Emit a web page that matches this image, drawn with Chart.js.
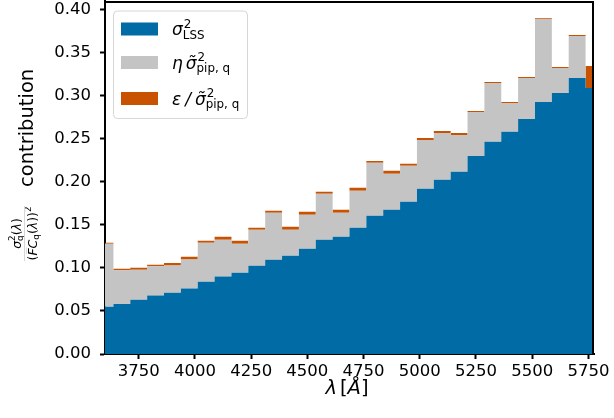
<!DOCTYPE html>
<html>
<head>
<meta charset="utf-8">
<script src="https://cdn.jsdelivr.net/npm/chart.js@4"></script>
<style>
  html, body { margin: 0; padding: 0; background: #fff; }
  #c { display: block; }
</style>
</head>
<body>
<canvas id="c" width="614" height="418"></canvas>
<script>
// bin centres (Angstrom), 75 A wide
const wavelength = [3600, 3675, 3750, 3825, 3900, 3975, 4050, 4125, 4200, 4275,
    4350, 4425, 4500, 4575, 4650, 4725, 4800, 4875, 4950, 5025,
    5100, 5175, 5250, 5325, 5400, 5475, 5550, 5625, 5700, 5775];

const sigmaLSS = [0.055, 0.058, 0.063, 0.068, 0.071, 0.076, 0.084, 0.090, 0.0945, 0.1026,
    0.1096, 0.1142, 0.1223, 0.1328, 0.1362, 0.1467, 0.1606, 0.1675, 0.1768, 0.1919,
    0.2023, 0.2116, 0.2301, 0.2464, 0.258, 0.273, 0.2928, 0.3032, 0.3206, 0.309];

const etaPip = [0.0731, 0.0392, 0.0348, 0.0338, 0.0317, 0.0339, 0.0453, 0.0428, 0.0336, 0.0417,
    0.0545, 0.0301, 0.0394, 0.0533, 0.0278, 0.0429, 0.0614, 0.0418, 0.0418, 0.0568,
    0.0545, 0.0429, 0.0511, 0.0684, 0.0336, 0.0476, 0.0962, 0.029, 0.0487, 0.0];

const epsPip = [0.0012, 0.0019, 0.0023, 0.002, 0.0031, 0.0031, 0.0023, 0.0034, 0.0035, 0.0024,
    0.0023, 0.0035, 0.0035, 0.0023, 0.0035, 0.0034, 0.0023, 0.0035, 0.0023, 0.0023,
    0.0023, 0.0023, 0.0011, 0.0012, 0.0012, 0.0011, 0.0011, 0.0011, 0.0011, 0.0255];

const xTicks = [3750, 4000, 4250, 4500, 4750, 5000, 5250, 5500, 5750];
const yTicks = [0, 0.05, 0.10, 0.15, 0.20, 0.25, 0.30, 0.35, 0.40];

const BLUE = '#006BA4';
const GREY = '#C4C4C4';
const ORANGE = '#C85200';
const FONT = "'DejaVu Sans'";

function pts(vals) {
    return vals.map((v, i) => ({ x: wavelength[i], y: v }));
}

function layer(label, vals, color, fill) {
    return {
        label,
        data: pts(vals),
        backgroundColor: color,
        borderColor: 'rgba(0,0,0,0)',
        borderWidth: 0,
        stepped: 'middle',
        fill,
        pointRadius: 0,
        pointHoverRadius: 0,
    };
}

// tiny mathtext-ish writer: runs of normal / italic text plus stacked sup/sub
function fontOf(italic, size) {
    return (italic ? 'italic ' : '') + size + 'px ' + FONT;
}

function mathText(ctx, x, y, parts, size, dry) {
    let cx = x;
    for (const p of parts) {
        if (p.sup !== undefined || p.sub !== undefined) {
            const s = size * 0.7;
            let w = 0;
            ctx.font = fontOf(false, s);
            if (p.sup !== undefined) {
                if (!dry) ctx.fillText(p.sup, cx + (p.supDx || 0), y - size * 0.42);
                w = Math.max(w, ctx.measureText(p.sup).width + (p.supDx || 0));
            }
            if (p.sub !== undefined) {
                if (!dry) ctx.fillText(p.sub, cx, y + size * 0.22);
                w = Math.max(w, ctx.measureText(p.sub).width);
            }
            cx += w;
        } else {
            ctx.font = fontOf(p.i, size);
            if (!dry) ctx.fillText(p.t, cx, y);
            cx += ctx.measureText(p.t).width + (p.gap || 0);
        }
    }
    return cx - x;
}

const legendItems = [
    { color: BLUE, parts: [{ t: 'σ', i: true }, { sup: '2', sub: 'LSS', supDx: 1 }] },
    { color: GREY, parts: [{ t: 'η', i: true, gap: 3 }, { t: 'σ\u0303', i: true }, { sup: '2', sub: 'pip, q', supDx: 1 }] },
    { color: ORANGE, parts: [{ t: 'ε', i: true, gap: 4 }, { t: '/', i: true, gap: 4 }, { t: 'σ\u0303', i: true }, { sup: '2', sub: 'pip, q', supDx: 1 }] },
];

const decorations = {
    id: 'decorations',
    afterDraw(chart) {
        const ctx = chart.ctx;
        const a = chart.chartArea;
        ctx.save();

        // top + right spines
        ctx.strokeStyle = '#000';
        ctx.lineWidth = 2;
        ctx.beginPath();
        ctx.moveTo(a.left, a.top + 1);
        ctx.lineTo(a.right - 1, a.top + 1);
        ctx.lineTo(a.right - 1, a.bottom);
        ctx.stroke();

        // legend
        const lx = 113.5, ly = 11, lw = 134, lh = 107.5;
        ctx.fillStyle = 'rgba(255,255,255,0.8)';
        ctx.strokeStyle = '#d6d6d6';
        ctx.lineWidth = 1;
        ctx.beginPath();
        ctx.roundRect(lx, ly, lw, lh, 4);
        ctx.fill();
        ctx.stroke();
        const centres = [29, 62.5, 98.5];
        legendItems.forEach((it, k) => {
            const cy = centres[k];
            ctx.fillStyle = it.color;
            ctx.fillRect(121, cy - 6.5, 37, 13);
            ctx.fillStyle = '#000';
            ctx.textBaseline = 'alphabetic';
            ctx.textAlign = 'left';
            mathText(ctx, 172, cy + 6, it.parts, 17);
        });

        // x axis title
        ctx.fillStyle = '#000';
        const xParts = [{ t: 'λ', i: true, gap: 3 }, { t: '[' }, { t: 'Å', i: true }, { t: ']' }];
        const xw = mathText(ctx, 0, 0, xParts, 19.5, true);
        mathText(ctx, 347 - xw / 2, 394, xParts, 19.5);

        // y axis title, rotated
        ctx.rotate(-Math.PI / 2);
        ctx.font = 19.5 + 'px ' + FONT;
        ctx.textAlign = 'left';
        ctx.fillText('contribution', -187, 33);

        const fs = 12.5;
        const num = [{ t: 'σ', i: true }, { sup: '2', sub: 'q' }, { t: '(' }, { t: 'λ', i: true }, { t: ')' }];
        const den = [{ t: '(' }, { t: 'F', i: true }, { t: 'C', i: true }, { sub: 'q' }, { t: '(' }, { t: 'λ', i: true }, { t: '))' }, { sup: '2' }];
        const fx = -233.5;
        const nw = mathText(ctx, 0, 0, num, fs, true);
        const dw = mathText(ctx, 0, 0, den, fs, true);
        mathText(ctx, fx - nw / 2, 20.5, num, fs);
        const dx0 = fx - dw / 2;
        mathText(ctx, dx0, 36.5, den, fs);
        // bar over F
        ctx.font = fontOf(false, fs);
        const pw = ctx.measureText('(').width;
        ctx.font = fontOf(true, fs);
        const fw = ctx.measureText('F').width;
        ctx.lineWidth = 0.8;
        ctx.beginPath();
        ctx.moveTo(dx0 + pw + 1.5, 26.5);
        ctx.lineTo(dx0 + pw + fw + 1, 26.5);
        ctx.stroke();
        // fraction line
        ctx.lineWidth = 1;
        const fl = Math.max(nw, dw) + 1;
        ctx.beginPath();
        ctx.moveTo(fx - fl / 2, 24.5);
        ctx.lineTo(fx + fl / 2, 24.5);
        ctx.stroke();

        ctx.restore();
    },
};

Chart.defaults.color = '#000';
Chart.defaults.font.family = FONT;

new Chart(document.getElementById('c'), {
    type: 'line',
    data: {
        datasets: [
            layer('sigma LSS', sigmaLSS, BLUE, 'origin'),
            layer('eta sigma pip', etaPip, GREY, '-1'),
            layer('eps / sigma pip', epsPip, ORANGE, '-1'),
        ],
    },
    options: {
        responsive: false,
        devicePixelRatio: 1,
        animation: false,
        layout: { padding: { left: 0, right: 20, top: 1, bottom: 0 } },
        plugins: {
            legend: { display: false },
            tooltip: { enabled: false },
        },
        scales: {
            x: {
                type: 'linear',
                min: 3600,
                max: 5775,
                afterBuildTicks: s => { s.ticks = xTicks.map(v => ({ value: v })); },
                afterFit: s => { s.height = 64; s.paddingLeft = 0; s.paddingRight = 0; },
                grid: { drawOnChartArea: false, drawTicks: true, tickLength: 5, tickWidth: 2, tickColor: '#000' },
                border: { display: true, color: '#000', width: 2 },
                ticks: {
                    color: '#000',
                    padding: 3,
                    maxRotation: 0,
                    font: { size: 16.5 },
                    callback: v => String(v),
                },
            },
            y: {
                stacked: true,
                min: 0,
                max: 0.41,
                afterBuildTicks: s => { s.ticks = yTicks.map(v => ({ value: v })); },
                afterFit: s => { s.width = 105; s.paddingTop = 0; s.paddingBottom = 0; },
                grid: { drawOnChartArea: false, drawTicks: true, tickLength: 5, tickWidth: 2, tickColor: '#000' },
                border: { display: true, color: '#000', width: 2 },
                ticks: {
                    color: '#000',
                    padding: 9,
                    font: { size: 16.5 },
                    callback: v => v.toFixed(2),
                },
            },
        },
    },
    plugins: [decorations],
});
</script>
</body>
</html>
